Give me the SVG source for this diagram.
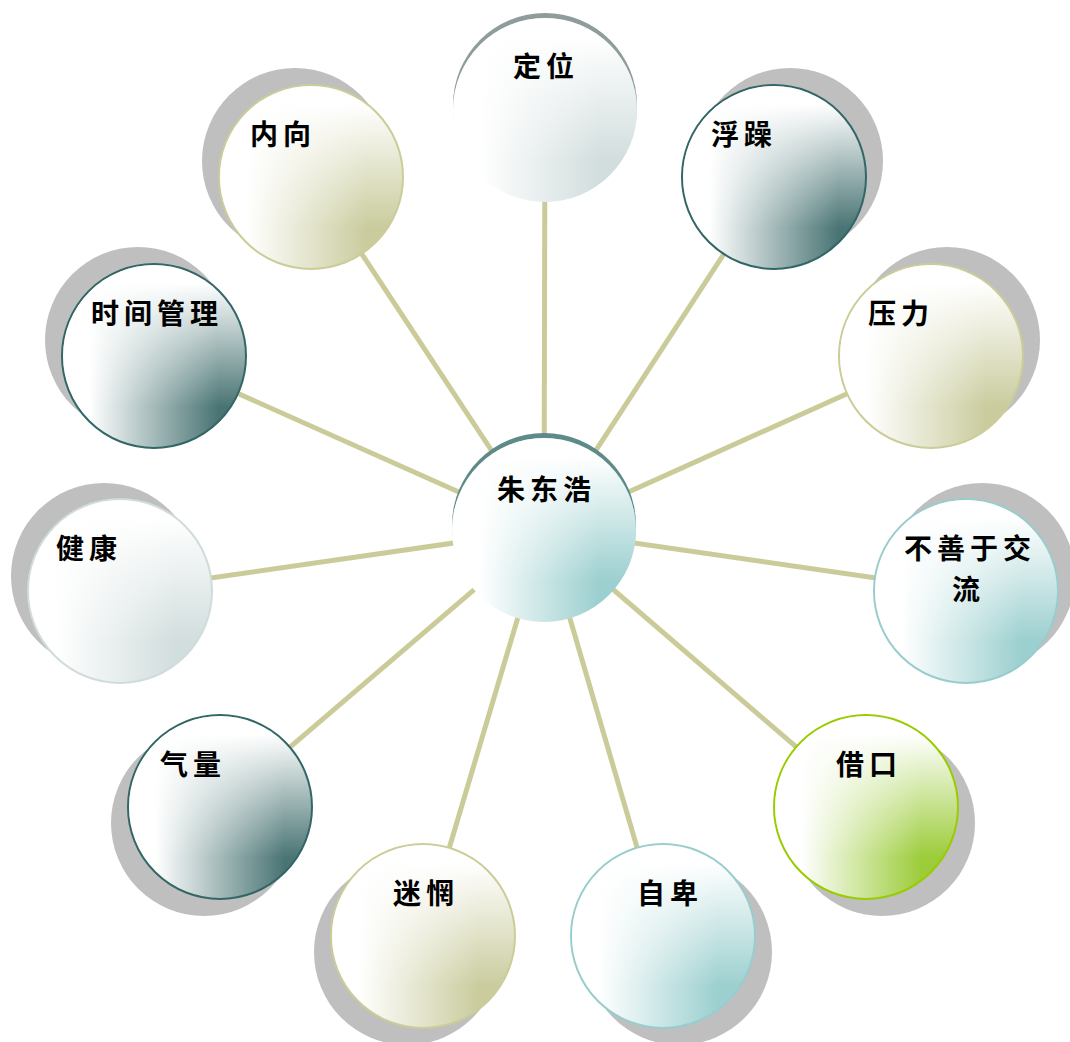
<svg xmlns="http://www.w3.org/2000/svg" width="1070" height="1042" viewBox="0 0 1070 1042">
<defs>
<linearGradient id="gTeal" x1="0" y1="0" x2="1" y2="0"><stop offset="0.15" stop-color="#ffffff"/><stop offset="0.8" stop-color="#9ccfcf"/></linearGradient>
<linearGradient id="gDark" x1="0" y1="0" x2="1" y2="0"><stop offset="0.15" stop-color="#ffffff"/><stop offset="0.85" stop-color="#4a7474"/></linearGradient>
<linearGradient id="gKhaki" x1="0" y1="0" x2="1" y2="0"><stop offset="0.15" stop-color="#ffffff"/><stop offset="0.8" stop-color="#cacc9e"/></linearGradient>
<linearGradient id="gGray" x1="0" y1="0" x2="1" y2="0"><stop offset="0.15" stop-color="#ffffff"/><stop offset="0.8" stop-color="#d2dddd"/></linearGradient>
<linearGradient id="gGreen" x1="0" y1="0" x2="1" y2="0"><stop offset="0.15" stop-color="#ffffff"/><stop offset="0.8" stop-color="#9ccc3a"/></linearGradient>
<linearGradient id="vWhite" x1="0" y1="0" x2="0" y2="1"><stop offset="0.1" stop-color="#ffffff" stop-opacity="1"/><stop offset="0.78" stop-color="#ffffff" stop-opacity="0"/></linearGradient>
<style>
.conn line{stroke:#cbcb9a;stroke-width:5;}
.sh{fill:#bfbfbf;}
.ov{fill:url(#vWhite);}
.t{font-family:"Noto Sans CJK SC","Noto Sans CJK TC",sans-serif;font-weight:bold;font-size:28px;letter-spacing:5px;fill:#000;}
.dark{fill:url(#gDark);stroke:#336666;stroke-width:2;}
.khaki{fill:url(#gKhaki);stroke:#cccc99;stroke-width:2;}
.teal{fill:url(#gTeal);stroke:#99cccc;stroke-width:2;}
.gray{fill:url(#gGray);stroke:#d0dcdc;stroke-width:2;}
.green{fill:url(#gGreen);stroke:#99cc00;stroke-width:2;}
</style>
</defs>
<rect width="1070" height="1042" fill="#ffffff"/>
<g class="conn">
<line x1="544" y1="530" x2="545" y2="110"/>
<line x1="544" y1="530" x2="774" y2="177"/>
<line x1="544" y1="530" x2="931" y2="356"/>
<line x1="544" y1="530" x2="966" y2="591"/>
<line x1="544" y1="530" x2="866" y2="807"/>
<line x1="544" y1="530" x2="663" y2="936"/>
<line x1="544" y1="530" x2="423" y2="936"/>
<line x1="544" y1="530" x2="220" y2="807"/>
<line x1="544" y1="530" x2="120" y2="591"/>
<line x1="544" y1="530" x2="154" y2="356"/>
<line x1="544" y1="530" x2="311" y2="177"/>
</g>
<g id="n-dingwei">
<circle cx="545" cy="105" r="92" fill="#909c9c"/>
<circle cx="545" cy="110" r="92" fill="url(#gGray)"/>
<circle cx="545" cy="110" r="92" class="ov"/>
<text class="t" x="513" y="77">定位</text>
</g>
<g id="n-fuzao">
<circle cx="790" cy="161" r="93" class="sh"/>
<circle cx="774" cy="177" r="92" class="dark"/>
<circle cx="774" cy="177" r="91" class="ov"/>
<text class="t" x="711" y="145">浮躁</text>
</g>
<g id="n-yali">
<circle cx="947" cy="340" r="93" class="sh"/>
<circle cx="931" cy="356" r="92" class="khaki"/>
<circle cx="931" cy="356" r="91" class="ov"/>
<text class="t" x="868" y="324">压力</text>
</g>
<g id="n-jiaoliu">
<circle cx="982" cy="576" r="93" class="sh"/>
<circle cx="966" cy="591" r="92" class="teal"/>
<circle cx="966" cy="591" r="91" class="ov"/>
<text class="t" x="904" y="559">不善于交</text>
<text class="t" x="952" y="600">流</text>
</g>
<g id="n-jiekou">
<circle cx="882" cy="823" r="93" class="sh"/>
<circle cx="866" cy="807" r="92" class="green"/>
<circle cx="866" cy="807" r="91" class="ov"/>
<text class="t" x="836" y="775">借口</text>
</g>
<g id="n-zibei">
<circle cx="679" cy="952" r="93" class="sh"/>
<circle cx="663" cy="936" r="92" class="teal"/>
<circle cx="663" cy="936" r="91" class="ov"/>
<text class="t" x="637" y="904">自卑</text>
</g>
<g id="n-miwang">
<circle cx="407" cy="952" r="93" class="sh"/>
<circle cx="423" cy="936" r="92" class="khaki"/>
<circle cx="423" cy="936" r="91" class="ov"/>
<text class="t" x="393" y="904">迷惘</text>
</g>
<g id="n-qiliang">
<circle cx="204" cy="823" r="93" class="sh"/>
<circle cx="220" cy="807" r="92" class="dark"/>
<circle cx="220" cy="807" r="91" class="ov"/>
<text class="t" x="160" y="775">气量</text>
</g>
<g id="n-jiankang">
<circle cx="104" cy="576" r="93" class="sh"/>
<circle cx="120" cy="591" r="92" class="gray"/>
<circle cx="120" cy="591" r="91" class="ov"/>
<text class="t" x="56" y="559">健康</text>
</g>
<g id="n-shijian">
<circle cx="138" cy="340" r="93" class="sh"/>
<circle cx="154" cy="356" r="92" class="dark"/>
<circle cx="154" cy="356" r="91" class="ov"/>
<text class="t" x="91" y="324">时间管理</text>
</g>
<g id="n-neixiang">
<circle cx="295" cy="161" r="93" class="sh"/>
<circle cx="311" cy="177" r="92" class="khaki"/>
<circle cx="311" cy="177" r="91" class="ov"/>
<text class="t" x="250" y="145">内向</text>
</g>
<g id="n-center">
<circle cx="544" cy="525" r="92" fill="#5f8a8a"/>
<circle cx="544" cy="530" r="92" fill="url(#gTeal)"/>
<circle cx="544" cy="530" r="92" class="ov"/>
<text class="t" x="497" y="500">朱东浩</text>
</g>
</svg>
